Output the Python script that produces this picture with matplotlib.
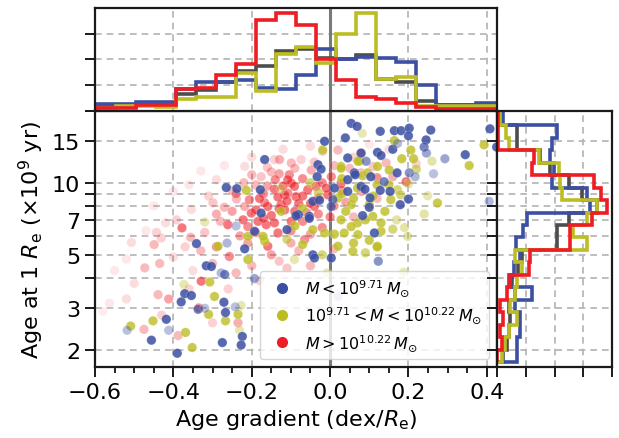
import numpy as np
import matplotlib
matplotlib.use('Agg')
import matplotlib.pyplot as plt
from matplotlib.lines import Line2D

# ---------------- data ----------------
blue_x = [0.054, 0.069, 0.039, -0.014, 0.128, 0.164, 0.181, 0.202, 0.200, 0.257, 0.245, 0.240, 0.160, 0.172,
          0.246, 0.121, 0.130, 0.345, 0.293, 0.408, 0.425, 0.406, 0.045, 0.079, -0.031, -0.023, -0.033, 0.062,
          0.092, 0.104, 0.171, 0.202, 0.217, 0.264, 0.045, 0.079, 0.138, 0.011, 0.045, 0.128, 0.153, 0.102,
          0.200, 0.179, 0.007, -0.044, 0.083, -0.053, 0.003, 0.113, 0.089, 0.064, -0.027, -0.053, -0.081,
          0.100, -0.110, -0.044, 0.003, -0.040, 0.123, 0.020,
          -0.167, -0.265, -0.238, -0.178, -0.176, -0.193, -0.087, -0.341, -0.263, -0.218, -0.316, -0.303,
          -0.278, -0.269, -0.193, -0.371, -0.354, -0.380, -0.271, -0.337, -0.320, -0.267, -0.242, -0.418,
          -0.518, -0.412, -0.456, -0.275, -0.224, -0.227, -0.390, -0.240]
blue_y = [17.7, 17.2, 15.4, 14.9, 16.4, 16.5, 16.5, 16.9, 15.7, 16.6, 15.1, 14.1, 13.8, 14.6,
          13.3, 13.4, 13.0, 13.1, 12.6, 16.8, 14.1, 8.36, 12.7, 13.3, 11.9, 11.4, 10.6, 11.0,
          12.3, 10.6, 11.0, 11.0, 10.6, 10.9, 10.3, 9.66, 10.1, 9.5, 9.2, 9.3, 9.2, 8.64,
          8.55, 8.1, 8.5, 8.36, 7.29, 7.24, 7.96, 6.17, 9.4, 10.8, 8.45, 7.1, 7.36,
          7.9, 6.37, 5.0, 4.85, 4.85, 4.7, 3.35,
          12.5, 9.55, 9.45, 9.35, 7.47, 6.27, 7.29, 5.57, 5.6, 5.3, 4.5, 4.47,
          4.2, 4.14, 3.98, 3.44, 3.38, 3.18, 3.17, 2.96, 2.99, 2.87, 3.03, 2.69,
          2.42, 2.42, 2.2, 2.15, 2.28, 2.1, 1.94, 6.6]
blue_w = [0.85, 0.85, 0.85, 0.85, 0.85, 0.85, 0.85, 0.85, 0.85, 0.85, 0.85, 0.7, 0.85, 0.4,
          0.5, 0.85, 0.85, 0.85, 0.5, 0.85, 0.85, 0.4, 0.85, 0.85, 0.85, 0.85, 0.85, 0.85,
          0.6, 0.85, 0.85, 0.6, 0.4, 0.35, 0.85, 0.85, 0.7, 0.85, 0.85, 0.85, 0.85, 0.85,
          0.85, 0.85, 0.7, 0.85, 0.85, 0.85, 0.7, 0.85, 0.85, 0.85, 0.85, 0.85, 0.85,
          0.85, 0.85, 0.85, 0.85, 0.85, 0.6, 0.3,
          0.85, 0.85, 0.85, 0.85, 0.85, 0.85, 0.85, 0.85, 0.4, 0.85, 0.85, 0.85,
          0.4, 0.7, 0.5, 0.85, 0.85, 0.85, 0.85, 0.7, 0.35, 0.85, 0.35, 0.85,
          0.35, 0.35, 0.85, 0.85, 0.85, 0.85, 0.85, 0.35]

olive_x = [0.082, 0.164, 0.206, 0.213, 0.183, 0.393, 0.355, 0.075, 0.121, 0.151, 0.083, 0.096, 0.028,
           0.172, 0.155, 0.054, 0.274, 0.249, 0.070, 0.109, 0.130, 0.036, 0.198, 0.100, 0.121, -0.014,
           0.011, -0.019, 0.028, 0.071, 0.020, -0.070, 0.028, -0.125, -0.044, -0.070, 0.020, 0.071,
           -0.167, -0.210, 0.054, -0.214, -0.125, -0.320, -0.171, -0.286, -0.307, -0.373, -0.295,
           -0.227, -0.310, -0.235, -0.267, -0.509, -0.452, -0.369, -0.352, -0.231, -0.210, -0.091,
           0.058, 0.120, 0.188, -0.008, 0.030, 0.060, 0.100, 0.140, 0.090, 0.170, 0.040, -0.030,
           0.120, 0.200, 0.070, 0.110, 0.150, 0.180, 0.130, 0.160, 0.060, 0.090, -0.020, -0.090,
           -0.110, 0.030, 0.220, 0.260, -0.050, 0.190, 0.240]
olive_y = [16.1, 15.0, 13.7, 12.6, 12.6, 14.4, 11.8, 12.3, 11.7, 11.3, 10.7, 11.0, 11.7,
           9.35, 8.5, 8.1, 8.23, 8.83, 6.8, 7.24, 6.27, 6.17, 5.97, 5.75, 5.43, 6.17,
           6.1, 13.7, 11.5, 12.3, 8.64, 7.8, 7.0, 7.6, 6.37, 5.52, 5.43, 6.07,
           5.7, 5.97, 6.56, 9.3, 9.45, 6.86, 5.97, 5.43, 3.85, 3.76, 3.35,
           3.07, 2.82, 2.82, 2.65, 2.52, 2.65, 2.37, 2.05, 2.42, 4.78, 4.78,
           5.17, 5.4, 4.23, 4.2, 9.0, 8.6, 8.1, 7.6, 7.0, 7.0, 7.6, 9.1,
           9.8, 9.9, 9.5, 8.8, 9.8, 8.9, 6.8, 6.4, 5.6, 5.1, 5.0, 6.6,
           5.8, 10.4, 11.4, 12.3, 10.0, 6.5, 7.4]
olive_w = [0.35, 0.8, 0.8, 0.8, 0.8, 0.8, 0.8, 0.8, 0.8, 0.8, 0.8, 0.8, 0.8,
           0.6, 0.8, 0.8, 0.8, 0.35, 0.8, 0.8, 0.8, 0.8, 0.4, 0.8, 0.8, 0.8,
           0.8, 0.8, 0.8, 0.8, 0.8, 0.8, 0.8, 0.8, 0.8, 0.8, 0.8, 0.8,
           0.8, 0.8, 0.8, 0.8, 0.35, 0.35, 0.8, 0.8, 0.8, 0.35, 0.8,
           0.35, 0.8, 0.8, 0.8, 0.8, 0.8, 0.8, 0.8, 0.35, 0.8, 0.35,
           0.8, 0.8, 0.35, 0.35, 0.8, 0.8, 0.8, 0.8, 0.8, 0.4, 0.8, 0.6,
           0.8, 0.4, 0.8, 0.8, 0.8, 0.6, 0.8, 0.6, 0.8, 0.6, 0.6, 0.8,
           0.6, 0.8, 0.6, 0.4, 0.6, 0.4, 0.4]

red_x = [-0.142, -0.116, -0.087, -0.057, -0.036, -0.006, -0.099, -0.125, -0.159, -0.201, -0.163, -0.099,
         -0.133, -0.040, 0.003, 0.020, -0.048, -0.074, -0.142, -0.104, -0.176, -0.206, -0.222, -0.065,
         0.028, 0.079, -0.378, -0.261, -0.189, -0.218, -0.184, -0.159, -0.129, -0.108, -0.091, -0.133,
         -0.116, -0.142, -0.507, -0.443, -0.431, -0.356, -0.290, -0.218, -0.239, -0.290, -0.354, -0.392,
         -0.299, -0.150, -0.099, -0.108, -0.167, -0.210, -0.449, -0.473, -0.435, -0.329, -0.412, -0.439,
         -0.520, -0.563, -0.475, -0.388, -0.335, -0.235, -0.257, -0.290, 0.079, 0.143, 0.194, -0.019,
         0.010, 0.120, 0.050, 0.000, -0.020, -0.060, -0.080, -0.030, -0.170, -0.190, -0.250, -0.270,
         -0.320, -0.230, -0.150, -0.100, -0.050, -0.200, -0.350, -0.400, -0.550, -0.500, -0.580, -0.450,
         -0.400, -0.330, -0.050, -0.120, 0.100, -0.070, -0.130, -0.160, -0.020, 0.040, 0.060, 0.010,
         -0.110, -0.260, -0.300,
         -0.240, -0.220, -0.200, -0.180, -0.150, -0.130, -0.110, -0.090, -0.070, -0.050, -0.030, -0.010,
         0.010, 0.030, -0.120, -0.140, -0.170, -0.190, -0.210, -0.100, -0.070, -0.050, -0.250, -0.280,
         -0.310, -0.330, -0.370, -0.420, -0.470, -0.520, -0.360, -0.430, -0.300, -0.160, -0.090, -0.040,
         0.060, 0.110, 0.160, 0.220, 0.080, 0.120, -0.080, -0.130, -0.180, -0.240, -0.270, -0.360,
         -0.200, 0.150]
red_y = [9.4, 8.9, 8.75, 9.35, 9.66, 8.9, 9.95, 8.1, 7.96, 7.47, 6.68, 6.9,
         6.17, 7.96, 10.6, 13.7, 11.3, 12.5, 12.5, 10.8, 10.6, 8.5, 7.0, 5.79,
         9.95, 11.0, 6.48, 6.68, 7.7, 7.96, 6.9, 5.43, 12.5, 10.3, 9.66, 8.72,
         7.7, 6.8, 5.63, 6.2, 5.88, 5.92, 10.3, 11.7, 8.55, 7.4, 7.74, 7.0,
         8.25, 11.1, 12.1, 9.05, 8.25, 6.56, 5.52, 4.41, 4.6, 3.88, 3.27, 3.41,
         3.27, 3.14, 2.44, 2.30, 3.0, 2.6, 4.92, 5.4, 13.3, 12.1, 10.1, 13.5,
         11.8, 10.5, 11.5, 7.2, 6.5, 7.5, 8.2, 8.6, 9.0, 9.8, 9.3, 7.9,
         6.2, 6.0, 5.0, 5.6, 4.5, 4.5, 4.3, 4.9, 4.3, 3.8, 2.9, 8.0,
         9.2, 11.2, 14.2, 13.8, 14.5, 10.4, 10.9, 9.7, 10.0, 8.3, 7.2, 5.3,
         4.4, 3.6, 2.6,
         9.0, 10.0, 10.8, 8.6, 7.3, 7.8, 8.4, 7.6, 8.8, 8.2, 7.4, 9.5,
         8.0, 9.3, 9.7, 10.3, 7.1, 6.2, 5.6, 6.3, 6.9, 6.1, 7.6, 6.9,
         8.8, 5.2, 5.4, 6.8, 6.3, 4.8, 3.6, 2.8, 4.6, 11.6, 11.5, 12.2,
         12.8, 11.7, 10.6, 12.0, 9.2, 8.6, 5.2, 4.7, 3.9, 4.2, 11.8, 9.8,
         12.8, 13.8]
red_w = [0.6, 0.6, 0.6, 0.6, 0.6, 0.6, 0.6, 0.6, 0.6, 0.6, 0.6, 0.6,
         0.6, 0.6, 0.5, 0.3, 0.35, 0.2, 0.2, 0.5, 0.25, 0.5, 0.6, 0.5,
         0.6, 0.3, 0.6, 0.6, 0.6, 0.35, 0.6, 0.6, 0.35, 0.6, 0.6, 0.6,
         0.6, 0.6, 0.15, 0.2, 0.2, 0.3, 0.15, 0.15, 0.3, 0.35, 0.15, 0.2,
         0.25, 0.3, 0.3, 0.5, 0.5, 0.5, 0.3, 0.3, 0.3, 0.6, 0.4, 0.3,
         0.15, 0.1, 0.3, 0.3, 0.5, 0.35, 0.5, 0.5, 0.5, 0.3, 0.6, 0.2,
         0.3, 0.5, 0.3, 0.5, 0.5, 0.5, 0.6, 0.6, 0.5, 0.3, 0.3, 0.3,
         0.25, 0.4, 0.4, 0.35, 0.3, 0.3, 0.15, 0.15, 0.1, 0.15, 0.08, 0.1,
         0.1, 0.1, 0.15, 0.15, 0.1, 0.5, 0.4, 0.4, 0.5, 0.4, 0.3, 0.3,
         0.25, 0.2, 0.2,
         0.5, 0.3, 0.3, 0.6, 0.6, 0.6, 0.6, 0.6, 0.6, 0.6, 0.5, 0.6,
         0.5, 0.5, 0.6, 0.5, 0.6, 0.5, 0.4, 0.5, 0.5, 0.4, 0.4, 0.3,
         0.2, 0.3, 0.2, 0.15, 0.1, 0.1, 0.2, 0.2, 0.3, 0.25, 0.3, 0.25,
         0.2, 0.25, 0.35, 0.2, 0.4, 0.3, 0.3, 0.25, 0.2, 0.3, 0.1, 0.1,
         0.15, 0.15]

# histogram of age gradient (top panel), 20 bins
grad_edges = np.linspace(-0.597, 0.423, 21)
gh_all = [0.15, 0.15, 0.25, 0.25, 0.65, 0.8, 1.12, 1.55, 1.74, 2.32, 2.39, 2.06, 2.03, 2.15, 1.22, 1.12, 0.39, 0.22, 0.22, 0.22]
gh_blue = [0.26, 0.26, 0.35, 0.35, 0.86, 1.12, 1.12, 1.2, 0.9, 0.86, 1.38, 2.4, 2.0, 2.1, 2.04, 1.9, 1.0, 0.22, 0.22, 0.3]
gh_olive = [0.1, 0.2, 0.17, 0.13, 0.45, 0.52, 0.52, 1.48, 0.77, 2.2, 2.5, 1.87, 3.0, 3.8, 1.25, 1.3, 0.2, 0.2, 0.2, 0.2]
gh_red = [0.1, 0.1, 0.22, 0.22, 0.84, 0.9, 1.38, 1.8, 3.55, 3.8, 3.35, 2.0, 1.19, 0.52, 0.45, 0.3, 0.13, 0.08, 0.08, 0.08]

# histogram of age (right panel), 20 log bins, listed from oldest to youngest
age_edges = 10 ** np.linspace(1.293, 0.25, 21)
ah_all = [0.15, 0.69, 0.69, 1.5, 1.85, 2.5, 2.95, 3.48, 2.5, 2.08, 2.08, 0.86, 0.74, 0.51, 0.63, 0.4, 0.45, 0.4, 0.34, 0.22]
ah_blue = [0.22, 2.08, 1.9, 1.85, 1.97, 1.9, 3.13, 3.24, 1.03, 0.92, 0.66, 0.8, 0.6, 0.4, 1.2, 0.63, 0.8, 0.8, 0.69, 0.69]
ah_olive = [0.1, 0.3, 0.4, 1.45, 2.14, 2.2, 2.25, 3.48, 3.13, 2.66, 3.13, 0.63, 0.86, 0.69, 0.63, 0.45, 0.69, 0.4, 0.28, 0.16]
ah_red = [0.05, 0.05, 0.05, 1.27, 1.2, 3.36, 3.6, 3.83, 3.3, 2.55, 2.55, 1.15, 1.1, 0.45, 0.34, 0.1, 0.22, 0.1, 0.16, 0.0]

labels = [r'$M<10^{9.71}\,M_{\odot}$', r'$10^{9.71}<M<10^{10.22}\,M_{\odot}$', r'$M>10^{10.22}\,M_{\odot}$']
yticks = [2, 3, 4, 5, 6, 7, 8, 9, 10, 15, 20]
yticklabels = ['2', '3', '', '5', '', '7', '', '', '10', '15', '']

# ---------------- style ----------------
C_BLUE = '#3b4fa3'
C_OLIVE = '#bcbd22'
C_RED = '#ee1c24'
C_GRAY = '#4d4d4d'
GRID = dict(color='#b3b3b3', linestyle=(0, (4, 3)), linewidth=1.2)

W, H = 619, 439
fig = plt.figure(figsize=(W / 100, H / 100), dpi=100)
L, R, B, T = 95 / W, 497 / W, 1 - 368 / H, 1 - 111.7 / H
TT = 1 - 9 / H
RR = 612 / W
ax = fig.add_axes([L, B, R - L, T - B])
axt = fig.add_axes([L, T, R - L, TT - T])
axr = fig.add_axes([R, B, RR - R, T - B])

for a in (ax, axt, axr):
    for s in a.spines.values():
        s.set_linewidth(1.6)
        s.set_color('#1a1a1a')
    a.tick_params(direction='out', length=7, width=1.4, labelsize=16, color='#1a1a1a')
    a.set_axisbelow(True)

# main scatter
xlim = (-0.597, 0.426)
ylim = (1.7, 20)
ax.set_yscale('log')
ax.set_xlim(xlim)
ax.set_ylim(ylim)
ax.axvline(0.0, color='#7a7a7a', lw=2.2, zorder=1.5)
for xs, ys, ws, c in ((red_x, red_y, red_w, C_RED), (olive_x, olive_y, olive_w, C_OLIVE), (blue_x, blue_y, blue_w, C_BLUE)):
    rgba = np.array([matplotlib.colors.to_rgba(c, alpha=w) for w in ws])
    ax.scatter(xs, ys, s=46, c=rgba, edgecolors=(1, 1, 1, 0.25), linewidths=0.6, zorder=2)
ax.set_xticks([-0.6, -0.4, -0.2, 0.0, 0.2, 0.4])
ax.set_xticks(np.arange(-0.55, 0.43, 0.05), minor=True)
ax.tick_params(axis='x', which='minor', direction='out', length=4.5, width=1.2)
ax.set_yticks(yticks)
ax.set_yticklabels(yticklabels)
ax.yaxis.set_minor_locator(matplotlib.ticker.NullLocator())
ax.grid(True, which='major', **GRID)
ax.set_xlabel(r'Age gradient (dex/$R_{\rm e}$)', fontsize=16)
ax.set_ylabel(r'Age at 1 $R_{\rm e}$ ($\times 10^9$ yr)', fontsize=16)

handles = [Line2D([], [], ls='none', marker='o', ms=7, mfc=c, mec=c) for c in (C_BLUE, C_OLIVE, C_RED)]
ax.legend(handles, labels, loc='lower right', fontsize=11.5, framealpha=0.8, labelspacing=0.42,
          handletextpad=0.45, borderpad=0.4, borderaxespad=0.5)

# top histogram
axt.set_xlim(xlim)
axt.set_ylim(0, 4)
axt.axvline(0.0, color='#7a7a7a', lw=2.2, zorder=1.5)
for h, c in ((gh_all, C_GRAY), (gh_blue, C_BLUE), (gh_olive, C_OLIVE), (gh_red, C_RED)):
    axt.stairs(h, grad_edges, color=c, lw=2.6, zorder=2)
axt.set_xticks([-0.6, -0.4, -0.2, 0.0, 0.2, 0.4])
axt.set_yticks([0, 1, 2, 3])
axt.tick_params(axis='x', bottom=False, labelbottom=False)
axt.tick_params(axis='y', labelleft=False)
axt.grid(True, **GRID)

# right histogram
axr.set_yscale('log')
axr.set_ylim(ylim)
axr.set_xlim(0, 4)
for h, c in ((ah_all, C_GRAY), (ah_blue, C_BLUE), (ah_olive, C_OLIVE), (ah_red, C_RED)):
    axr.stairs(h[::-1], age_edges[::-1], orientation='horizontal', color=c, lw=2.6, zorder=2)
axr.set_yticks(yticks)
axr.yaxis.set_minor_locator(matplotlib.ticker.NullLocator())
axr.set_xticks([0, 1, 2, 3, 4])
axr.tick_params(labelleft=False, labelbottom=False)
axr.grid(True, **GRID)

fig.savefig('out.png', dpi=100)
